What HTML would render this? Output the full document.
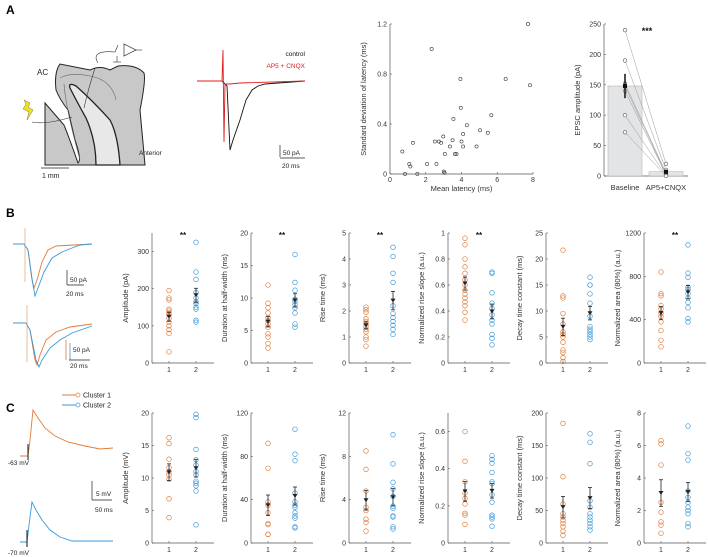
<!DOCTYPE html>
<html><head><meta charset="utf-8"><style>
body{margin:0;background:#fff}
svg{display:block;font-family:"Liberation Sans",sans-serif}
</style></head><body>
<svg id="fig" width="708" height="557" viewBox="0 0 708 557" xmlns="http://www.w3.org/2000/svg">
<g font-weight="bold" font-size="12" fill="#000">
<text x="6" y="14">A</text>
<text x="6" y="217">B</text>
<text x="6" y="412">C</text>
</g>
<g>
<path d="M45,103 L45,165 L145,165 L140,110 Q146,80 144,73 Q136,64 118,66 L110,70 Q100,65 90,70 L60,64 Q54,72 56,90 Q60,100 68,110 L75,140 Q82,160 78,163 Q70,140 64,125 Z" fill="#c8c8c8" stroke="#222" stroke-width="1"/>
<path d="M70,88 Q68,82 76,86 Q92,100 110,120 Q118,135 120,165 L96,165 Q96,140 86,118 Q76,100 70,88 Z" fill="#e8e8e8" stroke="#222" stroke-width="1.3"/>
<path d="M60,78 Q70,72 90,76 Q112,80 116,100" fill="none" stroke="#666" stroke-width="0.6"/>
<path d="M64,84 Q66,110 80,160" fill="none" stroke="#666" stroke-width="0.6"/>
<path d="M98,63 Q90,50 115,52 L118,45" fill="none" stroke="#333" stroke-width="0.6"/>
<path d="M95,68 Q88,90 84,108" fill="none" stroke="#333" stroke-width="0.6"/>
<polygon points="124,44 136,50 124,56" fill="#fff" stroke="#333" stroke-width="0.7"/>
<line x1="136" y1="50" x2="142" y2="50" stroke="#333" stroke-width="0.6"/>
<line x1="117" y1="56" x2="117" y2="62" stroke="#333" stroke-width="0.6"/>
<line x1="113" y1="62" x2="121" y2="62" stroke="#333" stroke-width="0.6"/>
<path d="M32,122 Q45,125 72,117" fill="none" stroke="#333" stroke-width="0.6"/>
<polygon points="24,100 30,103 28,107 33,110 27,120 29,112 23,109 26,104" fill="#f2e21c" stroke="#555" stroke-width="0.4"/>
<text x="37" y="75" font-size="8" fill="#222">AC</text>
<text x="139" y="155" font-size="6.5" fill="#222">Anterior</text>
<line x1="41" y1="168" x2="69" y2="168" stroke="#222" stroke-width="0.8"/>
<text x="42" y="178" font-size="7" fill="#222">1 mm</text>
</g>
<g>
<path d="M197,81 L222,81 L224,83 L227,86 L230,150 L233,140 L240,120 L246,100 L252,90 L258,86 L265,84 L305,81" fill="none" stroke="#111" stroke-width="0.9"/>
<path d="M197,81 L222,81 L223,50 L224,142 L225,84 L230,84 L240,83 L305,81" fill="none" stroke="#e01e1e" stroke-width="0.9"/>
<text x="305" y="56" font-size="6.5" text-anchor="end" fill="#111">control</text>
<text x="305" y="68" font-size="6.5" text-anchor="end" fill="#e01e1e">AP5 + CNQX</text>
<line x1="280" y1="145" x2="280" y2="157" stroke="#222" stroke-width="0.7"/>
<line x1="280" y1="158" x2="305" y2="158" stroke="#222" stroke-width="0.7"/>
<text x="283" y="155" font-size="6.5" fill="#222">50 pA</text>
<text x="282" y="168" font-size="6.5" fill="#222">20 ms</text>
</g>
<g fill="none" stroke-width="0.9">
<path d="M13,244 L24,244 L28,250 L32,280 L34,288 L37,280 L42,262 L48,250 L56,246 L92,244" stroke="#e07b39"/>
<path d="M13,244 L24,244 L28,250 L33,285 L35,296 L38,288 L44,272 L52,258 L62,252 L72,248 L80,245 L92,244" stroke="#3a9ad9"/>
<line x1="25" y1="228" x2="25" y2="282" stroke="#e0a070" stroke-width="0.7"/>
<path d="M13,323 L26,323 L30,330 L35,360 L37,365 L40,355 L46,340 L56,332 L70,327 L92,324" stroke="#e07b39"/>
<path d="M13,323 L26,323 L30,330 L36,360 L39,367 L42,360 L50,348 L60,340 L72,333 L92,326" stroke="#3a9ad9"/>
<line x1="27" y1="305" x2="27" y2="362" stroke="#e0a070" stroke-width="0.7"/>
<line x1="67" y1="270" x2="67" y2="285" stroke="#222" stroke-width="0.7"/>
<line x1="67" y1="285" x2="84" y2="285" stroke="#222" stroke-width="0.7"/>
<text x="70" y="282" font-size="6.5" fill="#222" stroke="none">50 pA</text>
<text x="66" y="296" font-size="6.5" fill="#222" stroke="none">20 ms</text>
<line x1="66" y1="340" x2="66" y2="360" stroke="#e07b39" stroke-width="0.8"/>
<line x1="70" y1="343" x2="70" y2="360" stroke="#3a9ad9" stroke-width="0.8"/>
<line x1="69" y1="360" x2="90" y2="360" stroke="#222" stroke-width="0.7"/>
<text x="73" y="352" font-size="6.5" fill="#222" stroke="none">50 pA</text>
<text x="70" y="368" font-size="6.5" fill="#222" stroke="none">20 ms</text>
</g>
<g font-size="7" fill="#222">
<line x1="62" y1="395" x2="76" y2="395" stroke="#e07b39" stroke-width="1"/><circle cx="78" cy="395" r="2" fill="#fff" stroke="#e07b39" stroke-width="0.7"/>
<text x="83" y="397.5">Cluster 1</text>
<line x1="62" y1="405" x2="76" y2="405" stroke="#3a9ad9" stroke-width="1"/><circle cx="78" cy="405" r="2" fill="#fff" stroke="#3a9ad9" stroke-width="0.7"/>
<text x="83" y="407.5">Cluster 2</text>
</g>
<g fill="none" stroke-width="0.9">
<path d="M20,456 L28,456 L30,440 L33,410 L38,418 L45,428 L55,436 L68,442 L85,446 L100,449 L113,448" stroke="#e07b39"/>
<line x1="28" y1="444" x2="28" y2="460" stroke="#111" stroke-width="1"/>
<text x="8" y="465" font-size="6.5" fill="#222" stroke="none">-63 mV</text>
<path d="M20,542 L27,542 L29,525 L32,502 L36,510 L42,520 L50,530 L60,537 L72,541 L113,541" stroke="#3a9ad9"/>
<line x1="27" y1="530" x2="27" y2="547" stroke="#111" stroke-width="1"/>
<text x="8" y="555" font-size="6.5" fill="#222" stroke="none">-70 mV</text>
<line x1="92" y1="481" x2="92" y2="500" stroke="#222" stroke-width="0.7"/>
<line x1="92" y1="500" x2="112" y2="500" stroke="#222" stroke-width="0.7"/>
<text x="96" y="496" font-size="6.5" fill="#222" stroke="none">5 mV</text>
<text x="95" y="512" font-size="6.5" fill="#222" stroke="none">50 ms</text>
</g>
<g id="charts"></g>
</svg>
<script>
const latMean = [7.72,2.33,3.94,6.47,7.83,3.96,5.67,3.55,4.3,5.04,5.47,4.09,2.98,0.69,1.28,2.51,2.73,2.86,3.5,4.0,3.35,4.09,4.84,3.07,3.63,3.72,1.08,1.14,2.07,2.6,3.01,0.84,1.53,3.05];
const latSD = [1.2,1.0,0.76,0.76,0.71,0.53,0.47,0.44,0.39,0.35,0.33,0.32,0.30,0.18,0.25,0.26,0.26,0.25,0.27,0.26,0.22,0.22,0.22,0.16,0.16,0.16,0.08,0.06,0.08,0.08,0.02,0,0,0.01];
const scatterXTicks = [0,2,4,6,8];
const scatterYTicks = [0,0.4,0.8,1.2];
const barCats = ['Baseline','AP5+CNQX'];
const barMeans = [148,7];
const barSem = [20,3];
const pairBase = [240,190,152,148,140,100,72];
const pairDrug = [20,10,5,3,2,1,0];
const barTicks = [0,50,100,150,200,250];
const bLabels = ['Amplitude (pA)','Duration at half-width (ms)','Rise time (ms)','Normalized rise slope (a.u.)','Decay time constant (ms)','Normalized area (80%) (a.u.)'];
const bMax = [350,20,5,1,25,1200];
const bTicks = [[0,100,200,300],[0,5,10,15,20],[0,1,2,3,4,5],[0,0.2,0.4,0.6,0.8,1],[0,5,10,15,20,25],[0,400,800,1200]];
const bSig = ['**','**','**','**','','**'];
const bC1 = [[195,175,170,145,140,135,130,120,110,100,90,80,30],[12,9.2,8.5,7.7,7,6.5,6,5.5,4.5,4,3,2.3],[2.15,2.05,1.95,1.7,1.6,1.5,1.4,1.3,1.2,1.0,0.9,0.65],[0.96,0.91,0.8,0.74,0.69,0.64,0.6,0.56,0.53,0.5,0.47,0.44,0.39,0.33],[21.7,12.9,12.5,9.5,7.5,6,5.5,5,4,2.5,2,1,0.3],[840,640,620,530,500,460,430,380,300,210,150]];
const bC2 = [[325,245,225,190,175,165,160,150,145,115,110],[16.7,12.4,11.2,9.8,9.5,9,8.5,7.7,6,5.5],[4.45,4.1,3.45,3.1,2.2,1.9,1.75,1.6,1.45,1.3,1.1],[0.7,0.69,0.54,0.46,0.42,0.37,0.33,0.3,0.22,0.19,0.14],[16.5,15,15,13.3,11.5,9,7,6.5,6,5.5,5,4.5],[1090,830,790,700,680,640,600,560,510,410,380]];
const cLabels = ['Amplitude (mV)','Duration at half-width (ms)','Rise time (ms)','Normalized rise slope (a.u.)','Decay time constant (ms)','Normalized area (80%) (a.u.)'];
const cMax = [20,120,12,0.7,200,8];
const cTicks = [[0,5,10,15,20],[0,40,80,120],[0,4,8,12],[0,0.2,0.4,0.6],[0,50,100,150,200],[0,2,4,6,8]];
const cC1 = [[16.2,15.3,12.9,11.6,11,10.5,9.8,6.8,3.9],[92,69,38,35,28,18,17,8,8],[8.5,6.8,4.8,3.3,3,2.2,1.9,1.1],[0.6,0.44,0.33,0.27,0.24,0.21,0.16,0.15,0.1],[184,102,60,45,40,35,30,25,18,12],[6.3,6.1,4.8,2.5,1.9,1.3,1.1,0.6]];
const cC2 = [[19.8,19.3,14.4,12.8,12,11,10.5,9.5,9.2,8.8,8,2.8],[105,82,76,46,38,35,33,28,25,23,15,14],[10,7.3,5.6,5,4.3,3.4,3.2,2.5,2.4,1.5,1.3],[0.47,0.45,0.43,0.38,0.33,0.32,0.26,0.22,0.15,0.14,0.13,0.09],[168,155,122,65,55,45,40,35,30,25,20],[7.2,5.5,5.1,3.2,2.8,2.5,2.2,2.0,1.8,1.2,1.0]];

const NS='http://www.w3.org/2000/svg';
const root=document.getElementById('charts');
function el(tag,attrs,parent,text){const e=document.createElementNS(NS,tag);for(const k in attrs)e.setAttribute(k,attrs[k]);if(text!==undefined)e.textContent=text;(parent||root).appendChild(e);return e;}
const AX='#555', TXT='#333', OR='#e07b39', BL='#3a9ad9';
function fmt(v){return String(Math.round(v*100)/100);}
function meanOf(a){return a.reduce((s,v)=>s+v,0)/a.length;}
function semOf(a){const m=meanOf(a);return Math.sqrt(a.reduce((s,v)=>s+(v-m)*(v-m),0)/(a.length-1))/Math.sqrt(a.length);}

function yAxis(g,x0,top,bot,max,ticks,label,name){
  const y=v=>bot-(v/max)*(bot-top);
  const ax=el('line',{x1:x0,y1:top,x2:x0,y2:bot,stroke:AX,'stroke-width':0.7},g);
  
  
  ticks.forEach(t=>{
    el('line',{x1:x0,y1:y(t),x2:x0+2,y2:y(t),stroke:AX,'stroke-width':0.6},g);
    const tl=el('text',{x:x0-3,y:y(t)+2.5,'font-size':7,'text-anchor':'end',fill:TXT},g,fmt(t));
    
    
  });
  const yl=el('text',{x:0,y:0,'font-size':7.5,'text-anchor':'middle',fill:TXT,transform:`translate(${x0-24},${(top+bot)/2}) rotate(-90)`},g,label);
  
  
  return y;
}

function strip(x0,top,bot,max,ticks,label,c1,c2,sig,name){
  const g=el('g',{});
  
  
  const y=yAxis(g,x0,top,bot,max,ticks,label,name);
  const xs=[x0+17,x0+44];
  el('line',{x1:x0,y1:bot,x2:x0+62,y2:bot,stroke:AX,'stroke-width':0.7},g);
  ['1','2'].forEach((c,i)=>{
    el('line',{x1:xs[i],y1:bot,x2:xs[i],y2:bot-2,stroke:AX,'stroke-width':0.6},g);
    const t=el('text',{x:xs[i],y:bot+9,'font-size':7,'text-anchor':'middle',fill:TXT},g,c);
    
    
  });
  [c1,c2].forEach((d,i)=>{
    const col=i?BL:OR;
    d.forEach(v=>{
      const p=el('circle',{cx:xs[i],cy:y(v),r:2.3,fill:'none',stroke:col,'stroke-width':0.7},g);
      
      
    });
    const m=meanOf(d), s=semOf(d);
    el('line',{x1:xs[i],y1:y(m-s),x2:xs[i],y2:y(m+s),stroke:'#222','stroke-width':0.8},g);
    el('line',{x1:xs[i]-2,y1:y(m-s),x2:xs[i]+2,y2:y(m-s),stroke:'#222','stroke-width':0.8},g);
    el('line',{x1:xs[i]-2,y1:y(m+s),x2:xs[i]+2,y2:y(m+s),stroke:'#222','stroke-width':0.8},g);
    const mk=el('path',{d:`M${xs[i]-2.5},${y(m)-2} L${xs[i]+2.5},${y(m)-2} L${xs[i]},${y(m)+2} Z`,fill:'#222'},g);
    
    
  });
  if(sig){
    const s=el('text',{x:x0+31,y:top+5,'font-size':8,'font-weight':'bold','text-anchor':'middle',fill:'#111'},g,sig);
    
    
  }
}
const axX=[152,251,349,448,546,644];
for(let i=0;i<6;i++){
  strip(axX[i],233,363,bMax[i],bTicks[i],bLabels[i],bC1[i],bC2[i],bSig[i],'plot-b'+(i+1));
  strip(axX[i],413,543,cMax[i],cTicks[i],cLabels[i],cC1[i],cC2[i],'','plot-c'+(i+1));
}

(function(){
  const g=el('g',{});
  
  
  const x0=390,x1=533,top=24,bot=174;
  const y=yAxis(g,x0,top,bot,1.2,scatterYTicks,'Standard deviation of latency (ms)','latency-scatter');
  const x=v=>x0+v/8*(x1-x0);
  el('line',{x1:x0,y1:bot,x2:x1,y2:bot,stroke:AX,'stroke-width':0.7},g);
  scatterXTicks.forEach(t=>{
    el('line',{x1:x(t),y1:bot,x2:x(t),y2:bot-2,stroke:AX,'stroke-width':0.6},g);
    const tl=el('text',{x:x(t),y:bot+8,'font-size':7,'text-anchor':'middle',fill:TXT},g,t);
    
    
  });
  const xt=el('text',{x:(x0+x1)/2,y:bot+17,'font-size':7.5,'text-anchor':'middle',fill:TXT},g,'Mean latency (ms)');
  
  
  latMean.forEach((v,i)=>{
    const p=el('circle',{cx:x(v),cy:y(latSD[i]),r:1.6,fill:'none',stroke:'#333','stroke-width':0.6},g);
    
    
  });
})();

(function(){
  const g=el('g',{});
  
  
  const x0=604,top=24,bot=176;
  const y=yAxis(g,x0,top,bot,250,barTicks,'EPSC amplitude (pA)','epsc-bar-chart');
  const cx=[625,666];
  el('line',{x1:x0,y1:bot,x2:x0+84,y2:bot,stroke:AX,'stroke-width':0.7},g);
  barCats.forEach((c,i)=>{
    const b=el('rect',{x:cx[i]-17,y:y(barMeans[i]),width:34,height:bot-y(barMeans[i]),fill:'#e3e4e6',stroke:'#aaa','stroke-width':0.5},g);
    
    
    const t=el('text',{x:cx[i],y:bot+14,'font-size':7.5,'text-anchor':'middle',fill:TXT},g,c);
    
    
  });
  pairBase.forEach((v,i)=>{
    el('line',{x1:cx[0],y1:y(v),x2:cx[1],y2:y(pairDrug[i]),stroke:'#999','stroke-width':0.5},g);
    const a=el('circle',{cx:cx[0],cy:y(v),r:1.8,fill:'#fff',stroke:'#555','stroke-width':0.6},g);
    
    
    const b=el('circle',{cx:cx[1],cy:y(pairDrug[i]),r:1.8,fill:'#fff',stroke:'#555','stroke-width':0.6},g);
    
    
  });
  barMeans.forEach((m,i)=>{
    el('line',{x1:cx[i],y1:y(m-barSem[i]),x2:cx[i],y2:y(m+barSem[i]),stroke:'#111','stroke-width':1.5},g);
    el('rect',{x:cx[i]-2,y:y(m)-2,width:4,height:4,fill:'#111'},g);
  });
  const s=el('text',{x:647,y:34,'font-size':9,'font-weight':'bold','text-anchor':'middle',fill:'#111'},g,'***');
  
  
})();
</script>
</body></html>
